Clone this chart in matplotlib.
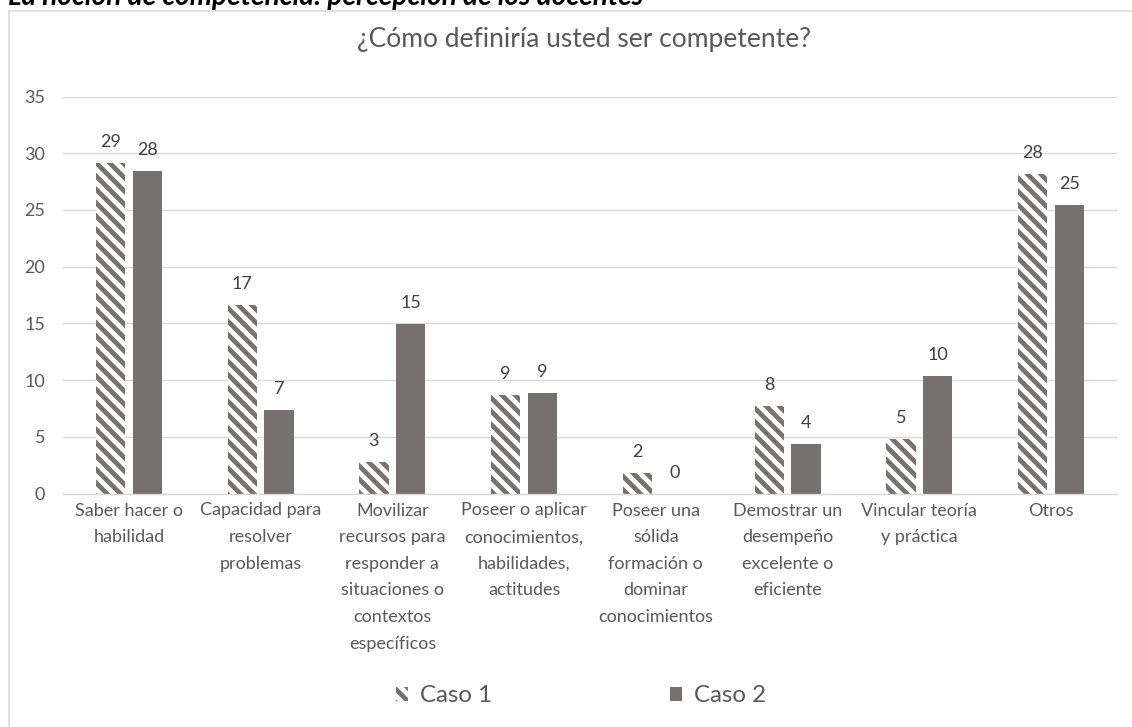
import matplotlib
matplotlib.use("Agg")
import matplotlib.pyplot as plt
from matplotlib.patches import Patch
from matplotlib.lines import Line2D
import numpy as np

# Data
categorias = [
    "Saber hacer o\nhabilidad",
    "Capacidad para\nresolver\nproblemas",
    "Movilizar\nrecursos para\nresponder a\nsituaciones o\ncontextos\nespecíficos",
    "Poseer o aplicar\nconocimientos,\nhabilidades,\nactitudes",
    "Poseer una\nsólida\nformación o\ndominar\nconocimientos",
    "Demostrar un\ndesempeño\nexcelente o\neficiente",
    "Vincular teoría\ny práctica",
    "Otros",
]
caso_1 = [29.1, 16.6, 2.8, 8.7, 1.8, 7.7, 4.8, 28.2]
caso_2 = [28.4, 7.4, 14.9, 8.9, 0.0, 4.4, 10.4, 25.4]
series = ["Caso 1", "Caso 2"]
y_ticks = [0, 5, 10, 15, 20, 25, 30, 35]
titulo = "¿Cómo definiría usted ser competente?"
encabezado = "La noción de competencia: percepción de los docentes"

# Canvas: sizes below are given in pixels and converted to points
W, H, DPI = 1132, 727, 80
GRIS = "#767171"
TEXTO = "#595959"
ETIQUETA = "#404040"
LINEA = "#D9D9D9"


def pt(px):
    return px * 72.0 / DPI


def fx(px):
    return px / W


def fy(py):
    return 1 - py / H


plt.rcParams["font.family"] = ["Lato", "DejaVu Sans"]
plt.rcParams["hatch.linewidth"] = pt(4.7)
plt.rcParams["hatch.color"] = GRIS

fig = plt.figure(figsize=(W / DPI, H / DPI), dpi=DPI)
fig.patch.set_facecolor("white")

# Chart-area frame (top and left edges visible)
fig.add_artist(Line2D([fx(8.5), 1.0], [fy(10.5), fy(10.5)],
                      transform=fig.transFigure, color=LINEA,
                      linewidth=pt(1.6)))
fig.add_artist(Line2D([fx(8.5), fx(8.5)], [fy(10.5), 0.0],
                      transform=fig.transFigure, color=LINEA,
                      linewidth=pt(1.6)))

ax = fig.add_axes([fx(63), fy(493.5), fx(1117) - fx(63), (493.5 - 96.5) / H])

x = np.arange(len(categorias))
ancho = 0.222
desp = 0.14
b1 = ax.bar(x - desp, caso_1, width=ancho, facecolor="white",
            edgecolor=GRIS, hatch="\\\\", linewidth=0, label=series[0])
b2 = ax.bar(x + desp, caso_2, width=ancho, color=GRIS, linewidth=0,
            label=series[1])

ax.bar_label(b1, labels=[f"{v:.0f}" for v in caso_1], padding=pt(13),
             fontsize=pt(18), color=ETIQUETA)
ax.bar_label(b2, labels=[f"{v:.0f}" for v in caso_2], padding=pt(13),
             fontsize=pt(18), color=ETIQUETA)

ax.set_xlim(-0.5, len(categorias) - 0.5)
ax.set_ylim(0, 35)
ax.set_yticks(y_ticks)
ax.yaxis.grid(True, color=LINEA, linewidth=pt(1.4))
ax.set_axisbelow(True)
for lado in ("top", "right", "left"):
    ax.spines[lado].set_visible(False)
ax.spines["bottom"].set_color(LINEA)
ax.spines["bottom"].set_linewidth(pt(1.4))

ax.set_xticks(x)
ax.set_xticklabels(categorias, linespacing=1.82, va="top")
ax.tick_params(axis="both", length=0, labelsize=pt(18), labelcolor=TEXTO)
ax.tick_params(axis="y", pad=pt(18))
ax.tick_params(axis="x", pad=pt(9))

# Titles
fig.text(fx(584), fy(47), titulo, ha="center", va="baseline",
         fontsize=pt(26.4), color=TEXTO)
fig.text(fx(8), fy(5), encabezado, ha="left", va="baseline",
         fontsize=pt(28), style="italic", weight="bold", color="black")

# Legend
manejadores = [
    Patch(facecolor="white", edgecolor=GRIS, hatch="\\\\", linewidth=0),
    Patch(facecolor=GRIS, linewidth=0),
]
fig.legend(manejadores, series, loc="center",
           bbox_to_anchor=(fx(581), fy(696)), ncol=2, frameon=False,
           fontsize=pt(24), labelcolor=TEXTO, handlelength=0.5,
           handleheight=0.5, handletextpad=0.5, columnspacing=7.4,
           borderpad=0)

fig.savefig("out.png", dpi=DPI, facecolor="white")
